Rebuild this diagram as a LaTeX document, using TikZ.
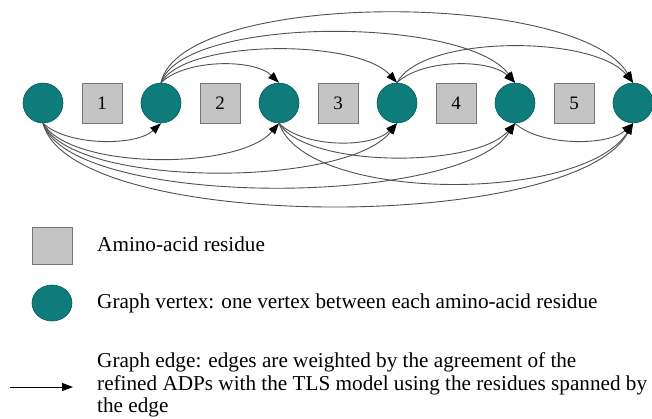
\documentclass[tikz,border=0pt]{standalone}
\usepackage{fontspec}
\setmainfont{Liberation Serif}
\usetikzlibrary{arrows.meta,shapes.geometric}
\definecolor{vteal}{RGB}{14,124,123}
\definecolor{vtealdark}{RGB}{10,88,88}
\definecolor{resgray}{RGB}{196,196,196}
\definecolor{resborder}{RGB}{118,118,118}
\definecolor{edgegray}{RGB}{80,80,80}
\begin{document}
\begin{tikzpicture}[x=1pt,y=-1pt,
  vertex/.style={circle, fill=vteal, draw=vtealdark, line width=0.6pt, minimum size=40pt, inner sep=0pt},
  residue/.style={rectangle, fill=resgray, draw=resborder, line width=0.8pt, minimum size=40pt, inner sep=0pt, font=\fontsize{19}{19}\selectfont},
  edge/.style={draw=edgegray, line width=0.9pt, -{Triangle[length=11pt,width=8pt,color=black]}},
  legtext/.style={anchor=base west, inner sep=0pt, font=\fontsize{21.2}{22}\selectfont}]
\useasboundingbox (0,0) rectangle (652,418);
% vertices
\node[vertex] (v0) at (43,103) {};
\node[vertex] (v1) at (161,103) {};
\node[vertex] (v2) at (279,103) {};
\node[vertex] (v3) at (397,103) {};
\node[vertex] (v4) at (515,103) {};
\node[vertex] (v5) at (633,103) {};
% residues
\node[residue] (r1) at (102,103) {1};
\node[residue] (r2) at (220,103) {2};
\node[residue] (r3) at (338,103) {3};
\node[residue] (r4) at (456,103) {4};
\node[residue] (r5) at (574,103) {5};
% top edges
\draw[edge] (v1.north) .. controls +(25,-24) and +(-25,-24) .. (v2.north);
\draw[edge] (v1.north) .. controls +(25,-44) and +(-40,-44) .. (v3.north);
\draw[edge] (v1.north) .. controls +(22,-67) and +(-50,-67) .. (v4.north);
\draw[edge] (v1.north) .. controls +(20,-93) and +(-55,-93) .. (v5.north);
\draw[edge] (v3.north) .. controls +(25,-24) and +(-25,-24) .. (v4.north);
\draw[edge] (v3.north) .. controls +(25,-48) and +(-40,-48) .. (v5.north);
% bottom edges
\draw[edge] (v0.south) .. controls +(25,23) and +(-25,23) .. (v1.south);
\draw[edge] (v0.south) .. controls +(28,47) and +(-40,47) .. (v2.south);
\draw[edge] (v0.south) .. controls +(28,65) and +(-50,65) .. (v3.south);
\draw[edge] (v0.south) .. controls +(28,85) and +(-55,85) .. (v4.south);
\draw[edge] (v0.south) .. controls +(28,110) and +(-60,110) .. (v5.south);
\draw[edge] (v2.south) .. controls +(25,25) and +(-25,25) .. (v3.south);
\draw[edge] (v2.south) .. controls +(28,45) and +(-40,45) .. (v4.south);
\draw[edge] (v2.south) .. controls +(28,80) and +(-50,80) .. (v5.south);
\draw[edge] (v4.south) .. controls +(25,23) and +(-25,23) .. (v5.south);
% legend
\node[residue, minimum width=40pt, minimum height=37pt] (lr) at (52,246) {};
\node[ellipse, fill=vteal, draw=vtealdark, line width=0.6pt, minimum width=40pt, minimum height=36pt, inner sep=0pt] (lv) at (52,303) {};
\coordinate (la) at (10,387);
\coordinate (lb) at (73,387);
\draw[edge, draw=black] (la) -- (lb);
\node[legtext] (t1) at (97,251) {Amino-acid residue};
\node[legtext] (t2) at (97,308) {Graph vertex: one vertex between each amino-acid residue};
\node[legtext] (t3) at (97,367) {Graph edge: edges are weighted by the agreement of the};
\node[legtext] (t4) at (97,390) {refined ADPs with the TLS model using the residues spanned by};
\node[legtext] (t5) at (97,412) {the edge};
\end{tikzpicture}
\end{document}
